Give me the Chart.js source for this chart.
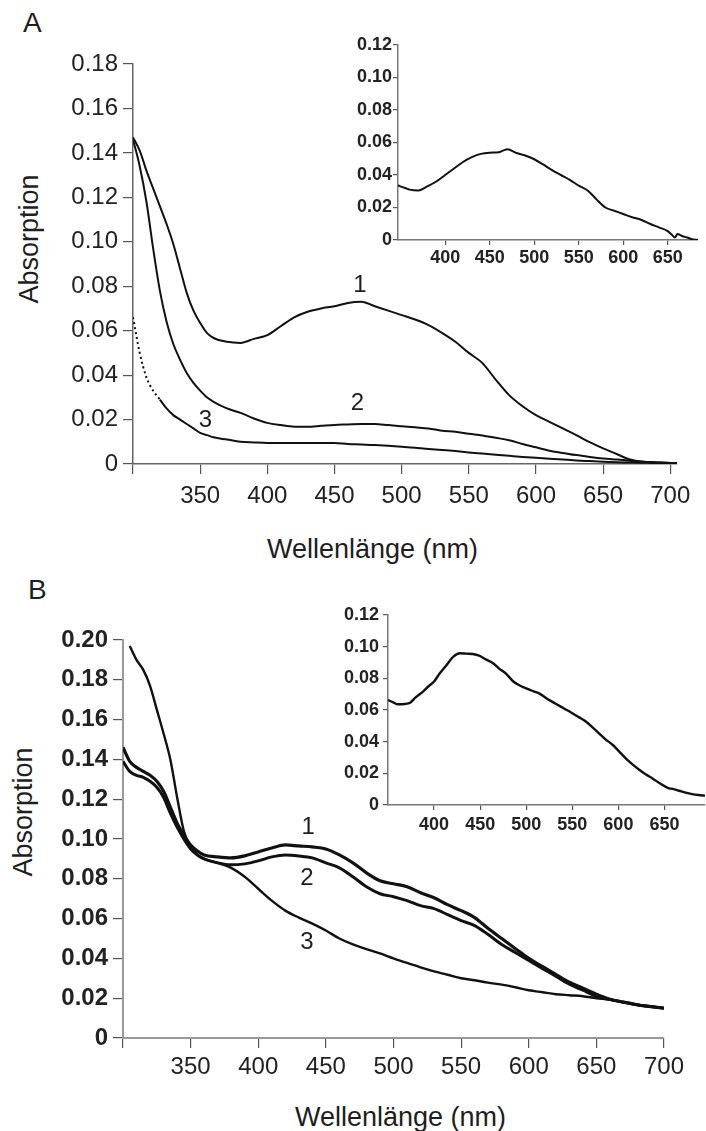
<!DOCTYPE html>
<html>
<head>
<meta charset="utf-8">
<script src="https://cdn.jsdelivr.net/npm/chart.js@4.4.0/dist/chart.umd.min.js"></script>
<style>
  body { margin: 0; background: #fff; width: 706px; height: 1131px; position: relative; overflow: hidden;
         font-family: "Liberation Sans", Arial, sans-serif; color: #1e1e1e; }
  canvas { position: absolute; }
  .txt { position: absolute; white-space: nowrap; line-height: 1; }
  .rot { transform: translate(-50%, -50%) rotate(-90deg); }
</style>
</head>
<body>
<div class="txt" style="left:23px;top:9px;font-size:28px">A</div>
<div class="txt" style="left:28px;top:576px;font-size:28px">B</div>
<div class="txt rot" style="left:29px;top:239px;font-size:27px">Absorption</div>
<div class="txt rot" style="left:23px;top:812px;font-size:27px">Absorption</div>
<div class="txt" style="left:267px;top:536px;font-size:27px">Wellenlänge (nm)</div>
<div class="txt" style="left:295px;top:1104px;font-size:27px">Wellenlänge (nm)</div>

<canvas id="mainA" width="706" height="520" style="left:0;top:0"></canvas>
<canvas id="insetA" width="366" height="250" style="left:340px;top:20px"></canvas>
<canvas id="mainB" width="706" height="520" style="left:0;top:560px"></canvas>
<canvas id="insetB" width="366" height="250" style="left:340px;top:585px"></canvas>

<script>
// ---- panel A, main spectra ----
const wlA = [300, 305, 310, 315, 320, 325, 330, 335, 340, 345, 350, 355, 360, 370, 380, 390, 400, 410, 420, 430,
  440, 450, 460, 470, 480, 490, 500, 510, 520, 530, 540, 550, 560, 570, 580, 590, 600, 610, 620, 630,
  640, 650, 660, 670, 680, 690, 700, 705];
const a1 = [0.147, 0.141, 0.132, 0.124, 0.116, 0.108, 0.099, 0.088, 0.077, 0.069, 0.0635, 0.059, 0.0567, 0.055, 0.0545, 0.0563, 0.058, 0.062, 0.066, 0.0685,
  0.070, 0.071, 0.0725, 0.073, 0.071, 0.069, 0.067, 0.065, 0.0625, 0.059, 0.055, 0.050, 0.0455, 0.038, 0.031, 0.026, 0.022, 0.019, 0.016, 0.013,
  0.0098, 0.007, 0.0045, 0.002, 0.001, 0.0007, 0.0005, 0.0005];
const a2 = [0.146, 0.134, 0.118, 0.097, 0.078, 0.064, 0.054, 0.047, 0.041, 0.0365, 0.033, 0.030, 0.028, 0.025, 0.023, 0.0205, 0.0185, 0.0175, 0.0168, 0.0168,
  0.0172, 0.0176, 0.0178, 0.018, 0.018, 0.0175, 0.017, 0.0165, 0.016, 0.015, 0.0145, 0.0136, 0.0128, 0.0118, 0.0107, 0.009, 0.0075, 0.006, 0.005, 0.004,
  0.0032, 0.0025, 0.002, 0.0015, 0.001, 0.0007, 0.0005, 0.0005];
const a3 = [0.066, 0.050, 0.039, 0.033, 0.029, 0.025, 0.022, 0.020, 0.018, 0.016, 0.014, 0.013, 0.012, 0.011, 0.010, 0.0097, 0.0095, 0.0095, 0.0095, 0.0095,
  0.0095, 0.0095, 0.009, 0.0088, 0.0085, 0.0082, 0.0078, 0.0073, 0.0068, 0.0063, 0.0058, 0.0052, 0.0047, 0.0042, 0.0037, 0.0032, 0.0028, 0.0024, 0.002, 0.0016,
  0.0013, 0.001, 0.0008, 0.0007, 0.0006, 0.0005, 0.0005, 0.0005];

// ---- panel A, inset (difference spectrum) ----
const wlAi = [347, 355, 360, 370, 380, 390, 400, 410, 420, 430, 440, 450, 460, 465, 470, 480, 490, 500, 510, 520,
  530, 540, 550, 560, 570, 580, 590, 600, 610, 620, 630, 640, 650, 655, 658, 661, 666, 672, 677, 684];
const ai = [0.0335, 0.032, 0.031, 0.0305, 0.033, 0.036, 0.040, 0.044, 0.048, 0.051, 0.053, 0.0537, 0.054, 0.055, 0.0558, 0.0535, 0.052, 0.0497, 0.0465, 0.043,
  0.040, 0.037, 0.0335, 0.0305, 0.025, 0.020, 0.018, 0.016, 0.014, 0.0125, 0.010, 0.0078, 0.0055, 0.003, 0.0015, 0.0037, 0.0025, 0.0015, 0.0005, 0];

// ---- panel B, main spectra ----
const wlB = [300, 305, 310, 315, 320, 325, 330, 335, 340, 345, 350, 355, 360, 370, 380, 390, 400, 410, 420, 430,
  440, 450, 460, 470, 480, 490, 500, 510, 520, 530, 540, 550, 560, 570, 580, 590, 600, 610, 620, 630,
  640, 650, 660, 670, 680, 690, 700];
const b1 = [0.146, 0.139, 0.136, 0.134, 0.132, 0.129, 0.124, 0.116, 0.108, 0.102, 0.097, 0.094, 0.092, 0.091, 0.0905, 0.0915, 0.0935, 0.0955, 0.097, 0.0965,
  0.096, 0.095, 0.092, 0.088, 0.083, 0.079, 0.0775, 0.076, 0.073, 0.0705, 0.067, 0.064, 0.0605, 0.055, 0.050, 0.045, 0.040, 0.036, 0.032, 0.028,
  0.025, 0.022, 0.0195, 0.018, 0.0167, 0.0158, 0.015];
const b2 = [0.139, 0.134, 0.132, 0.131, 0.129, 0.126, 0.121, 0.113, 0.106, 0.100, 0.095, 0.092, 0.090, 0.088, 0.087, 0.0875, 0.089, 0.091, 0.092, 0.0915,
  0.0905, 0.088, 0.0855, 0.081, 0.076, 0.0725, 0.071, 0.069, 0.0665, 0.065, 0.062, 0.059, 0.0565, 0.052, 0.047, 0.043, 0.039, 0.035, 0.031, 0.027,
  0.024, 0.021, 0.0193, 0.018, 0.0167, 0.0158, 0.015];
const b3 = [null, 0.197, 0.190, 0.185, 0.177, 0.165, 0.153, 0.140, 0.121, 0.104, 0.096, 0.092, 0.090, 0.088, 0.0855, 0.081, 0.075, 0.069, 0.064, 0.0605,
  0.0575, 0.054, 0.050, 0.047, 0.0447, 0.0425, 0.040, 0.0377, 0.0355, 0.0335, 0.0318, 0.030, 0.029, 0.0278, 0.0268, 0.0255, 0.024, 0.023, 0.022, 0.0215,
  0.021, 0.020, 0.0193, 0.018, 0.0167, 0.0158, 0.015];

// ---- panel B, inset ----
const wlBi = [350, 355, 361, 368, 374, 380, 388, 394, 400, 406, 413, 421, 428, 435, 442, 449, 456, 464, 471, 478,
  486, 493, 500, 507, 514, 523, 532, 541, 550, 557, 565, 572, 579, 586, 594, 601, 608, 615, 623, 630,
  637, 644, 651, 655, 659, 666, 673, 680, 687, 694];
const bi = [0.0663, 0.065, 0.0636, 0.0638, 0.0646, 0.068, 0.0716, 0.075, 0.078, 0.083, 0.088, 0.0937, 0.0958, 0.0956, 0.0954, 0.0943, 0.092, 0.0895, 0.086, 0.083,
  0.078, 0.0755, 0.0737, 0.072, 0.0705, 0.067, 0.064, 0.061, 0.058, 0.0555, 0.0526, 0.049, 0.0453, 0.0415, 0.0379, 0.0337, 0.0295, 0.0258, 0.0221, 0.0192,
  0.0168, 0.014, 0.0116, 0.0105, 0.0102, 0.009, 0.0078, 0.0069, 0.0063, 0.0059];

// curve numbers, placed in data units
const labelsA = [{ t: '1', x: 469, y: 0.0806 }, { t: '2', x: 467, y: 0.0275 }, { t: '3', x: 354, y: 0.0198 }];
const labelsB = [{ t: '1', x: 437, y: 0.106 }, { t: '2', x: 436, y: 0.0804 }, { t: '3', x: 436, y: 0.0482 }];

const FONT = "'Liberation Sans', Arial, sans-serif";

const curveLabels = {
  id: 'curveLabels',
  afterDatasetsDraw(chart, args, opts) {
    if (!opts.items) return;
    const { ctx, scales: { x, y } } = chart;
    ctx.save();
    ctx.font = '24px ' + FONT;
    ctx.fillStyle = '#1e1e1e';
    ctx.textAlign = 'center';
    ctx.textBaseline = 'middle';
    opts.items.forEach(it => ctx.fillText(it.t, x.getPixelForValue(it.x), y.getPixelForValue(it.y)));
    ctx.restore();
  }
};

const pts = (xs, ys) => xs.map((v, i) => ({ x: v, y: ys[i] })).filter(p => p.y !== null);

function line(xs, ys, w, extra) {
  return Object.assign({
    data: pts(xs, ys), borderColor: '#111', borderWidth: w, pointRadius: 0,
    cubicInterpolationMode: 'monotone', fill: false
  }, extra || {});
}

function makeChart(id, datasets, cfg) {
  return new Chart(document.getElementById(id), {
    type: 'line',
    data: { datasets },
    plugins: [curveLabels],
    options: {
      responsive: false, animation: false, devicePixelRatio: 1,
      layout: { padding: cfg.padding },
      plugins: { legend: { display: false }, tooltip: { enabled: false }, curveLabels: { items: cfg.labels } },
      scales: {
        x: {
          type: 'linear', min: cfg.xmin, max: cfg.xmax,
          afterFit: s => { s.height = cfg.xh; },
          afterBuildTicks: s => { s.ticks = s.ticks.filter(t => t.value >= cfg.xfirst); },
          border: { color: cfg.axisColor, width: cfg.axisW },
          grid: { drawOnChartArea: false, tickLength: cfg.tl, color: '#555', lineWidth: 1.2 },
          ticks: {
            stepSize: 50, includeBounds: false, maxRotation: 0, autoSkip: false,
            padding: cfg.xpad, color: '#222', font: { family: FONT, size: cfg.fs, weight: cfg.fw },
            callback: v => (v < cfg.xlabelFrom ? '' : String(v))
          }
        },
        y: {
          min: 0, max: cfg.ymax,
          afterFit: s => { s.width = cfg.yw; },
          border: { color: cfg.axisColor, width: cfg.axisW },
          grid: { drawOnChartArea: false, tickLength: cfg.tl, color: '#555', lineWidth: 1.2 },
          ticks: {
            stepSize: 0.02, includeBounds: false, padding: cfg.ypad, color: '#222',
            font: { family: FONT, size: cfg.fs, weight: cfg.yfw || cfg.fw },
            callback: v => (Math.abs(v) < 1e-9 ? '0' : v.toFixed(2))
          }
        }
      }
    }
  });
}

makeChart('mainA', [
  line(wlA, a1, 2),
  line(wlA, a2, 2),
  line(wlA, a3, 2, { segment: { borderDash: c => (c.p1.parsed.x <= 320 ? [2, 3] : undefined) } })
], { padding: { top: 64, right: 29, left: 0, bottom: 0 }, xmin: 300, xmax: 705, ymax: 0.18, xh: 56, yw: 133,
     xfirst: 300, xlabelFrom: 350, tl: 10, xpad: 8, ypad: 5, fs: 24, fw: 'normal', axisColor: '#666', axisW: 1.5, labels: labelsA });

makeChart('insetA', [line(wlAi, ai, 2)],
  { padding: { top: 25, right: 8, left: 0, bottom: 0 }, xmin: 347, xmax: 684, ymax: 0.12, xh: 30, yw: 58,
    xfirst: 400, xlabelFrom: 400, tl: 5, xpad: 2, ypad: 1, fs: 18, fw: 'bold', axisColor: '#777', axisW: 1.5 });

makeChart('mainB', [
  line(wlB, b1, 3.2),
  line(wlB, b2, 3),
  line(wlB, b3, 2.4)
], { padding: { top: 80, right: 42, left: 0, bottom: 0 }, xmin: 300, xmax: 700, ymax: 0.20, xh: 42, yw: 123,
     xfirst: 300, xlabelFrom: 350, tl: 10, xpad: 5, ypad: 5, fs: 24, fw: 'normal', yfw: 'bold', axisColor: '#999', axisW: 2, labels: labelsB });

makeChart('insetB', [line(wlBi, bi, 2.4)],
  { padding: { top: 30, right: 1, left: 0, bottom: 0 }, xmin: 350, xmax: 694, ymax: 0.12, xh: 30, yw: 48,
    xfirst: 400, xlabelFrom: 400, tl: 5, xpad: 4, ypad: 4, fs: 18, fw: 'bold', axisColor: '#777', axisW: 1.5 });
</script>
</body>
</html>
